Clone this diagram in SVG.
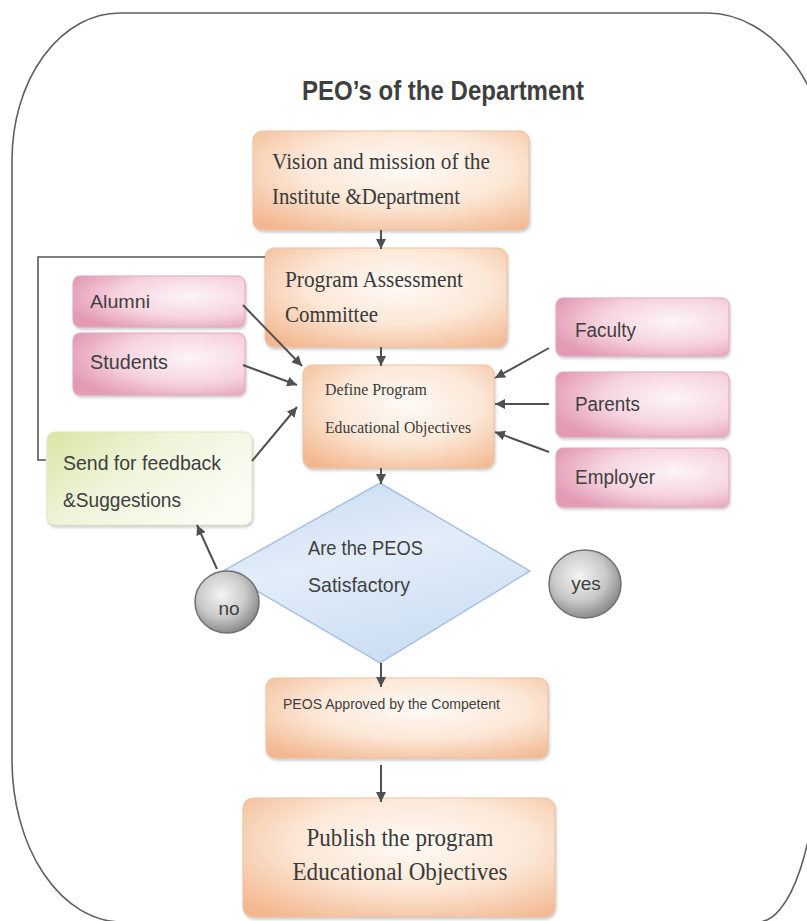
<svg xmlns="http://www.w3.org/2000/svg" width="807" height="921" viewBox="0 0 807 921">
<style>
  .serif{font-family:"Liberation Serif","Times New Roman",serif;fill:#3a3a3a}
  .sans{font-family:"Liberation Sans",Arial,sans-serif;fill:#3f3f3f}
  .orange{fill:url(#gOrange);stroke:#f0c2a0;stroke-width:1;filter:url(#shadow)}
  .pink{fill:url(#gPink);stroke:#e2a9be;stroke-width:1;filter:url(#shadow)}
  .green{fill:url(#gGreen);stroke:#dfe8c0;stroke-width:1;filter:url(#shadow)}
  .conn{stroke:#505050;stroke-width:2;fill:none}
  .arrow{marker-end:url(#ah)}
  .bubble{fill:url(#gGrey);stroke:#707070;stroke-width:1.5}
</style>
<defs>
  <radialGradient id="gOrange" cx="55%" cy="38%" r="75%">
    <stop offset="0" stop-color="#fffaf6"/>
    <stop offset="0.5" stop-color="#fce8d7"/>
    <stop offset="1" stop-color="#f3b78f"/>
  </radialGradient>
  <radialGradient id="gPink" cx="68%" cy="40%" r="75%">
    <stop offset="0" stop-color="#fdf5f8"/>
    <stop offset="0.55" stop-color="#f6d3df"/>
    <stop offset="1" stop-color="#e39ab4"/>
  </radialGradient>
  <linearGradient id="gGreen" x1="0" y1="0" x2="1" y2="0.6">
    <stop offset="0" stop-color="#d7e6a2"/>
    <stop offset="0.45" stop-color="#eef4d8"/>
    <stop offset="1" stop-color="#fbfcf4"/>
  </linearGradient>
  <linearGradient id="gBlue" x1="0" y1="0" x2="0.4" y2="1">
    <stop offset="0" stop-color="#c6d9f2"/>
    <stop offset="0.5" stop-color="#e3edf9"/>
    <stop offset="1" stop-color="#cddff4"/>
  </linearGradient>
  <radialGradient id="gGrey" cx="42%" cy="38%" r="62%">
    <stop offset="0" stop-color="#f4f4f4"/>
    <stop offset="0.6" stop-color="#c9c9c9"/>
    <stop offset="1" stop-color="#8c8c8c"/>
  </radialGradient>
  <filter id="shadow" x="-10%" y="-10%" width="120%" height="130%">
    <feDropShadow dx="1" dy="2" stdDeviation="1.5" flood-color="#888" flood-opacity="0.45"/>
  </filter>
  <marker id="ah" viewBox="0 0 10 10" refX="10" refY="5" markerWidth="10" markerHeight="10" markerUnits="userSpaceOnUse" orient="auto">
    <path d="M0,0 L10,5 L0,10 Z" fill="#505050"/>
  </marker>
</defs>
<rect x="0" y="0" width="807" height="921" fill="#ffffff"/>

<g id="frame">
  <path d="M120,13 L707,13 A125,177 0 0 1 832,190 L832,740 L818,740 A60,182 0 0 1 758,922 L122,922 A110,162 0 0 1 12,760 L12,160 A108,147 0 0 1 120,13 Z" fill="none" stroke="#5f5f5f" stroke-width="1.6"/>
</g>

<g id="title">
  <text x="302" y="100" class="sans" font-size="28" font-weight="bold" fill="#444" textLength="282" lengthAdjust="spacingAndGlyphs">PEO’s of the Department</text>
</g>

<g id="vision">
  <rect x="253" y="131" width="276" height="99" rx="9" class="orange"/>
  <text x="272" y="169" class="serif" font-size="23" textLength="218" lengthAdjust="spacingAndGlyphs">Vision and mission of the</text>
  <text x="272" y="204" class="serif" font-size="23" textLength="188" lengthAdjust="spacingAndGlyphs">Institute &amp;Department</text>
</g>

<g id="pac">
  <rect x="265" y="248" width="242" height="99" rx="9" class="orange"/>
  <text x="285" y="287" class="serif" font-size="23" textLength="178" lengthAdjust="spacingAndGlyphs">Program Assessment</text>
  <text x="285" y="322" class="serif" font-size="23" textLength="93" lengthAdjust="spacingAndGlyphs">Committee</text>
</g>

<g id="alumni">
  <rect x="73" y="276" width="172" height="51" rx="7" class="pink"/>
  <text x="90" y="308" class="sans" font-size="19" textLength="60" lengthAdjust="spacingAndGlyphs">Alumni</text>
</g>

<g id="students">
  <rect x="73" y="333" width="172" height="62" rx="7" class="pink"/>
  <text x="90" y="369" class="sans" font-size="20" textLength="78" lengthAdjust="spacingAndGlyphs">Students</text>
</g>

<g id="faculty">
  <rect x="556" y="298" width="173" height="58" rx="7" class="pink"/>
  <text x="575" y="337" class="sans" font-size="20" textLength="61" lengthAdjust="spacingAndGlyphs">Faculty</text>
</g>

<g id="parents">
  <rect x="556" y="372" width="173" height="65" rx="7" class="pink"/>
  <text x="575" y="411" class="sans" font-size="20" textLength="65" lengthAdjust="spacingAndGlyphs">Parents</text>
</g>

<g id="employer">
  <rect x="556" y="448" width="173" height="59" rx="7" class="pink"/>
  <text x="575" y="484" class="sans" font-size="20" textLength="80" lengthAdjust="spacingAndGlyphs">Employer</text>
</g>

<g id="define">
  <rect x="303" y="365" width="191" height="103" rx="9" class="orange"/>
  <text x="325" y="395" class="serif" font-size="17" textLength="102" lengthAdjust="spacingAndGlyphs">Define Program</text>
  <text x="325" y="433" class="serif" font-size="17" textLength="146" lengthAdjust="spacingAndGlyphs">Educational Objectives</text>
</g>

<g id="feedback">
  <rect x="47" y="432" width="205" height="93" rx="8" class="green"/>
  <text x="63" y="470" class="sans" font-size="21" textLength="158" lengthAdjust="spacingAndGlyphs">Send for feedback</text>
  <text x="63" y="507" class="sans" font-size="21" textLength="118" lengthAdjust="spacingAndGlyphs">&amp;Suggestions</text>
</g>

<g id="decision">
  <polygon points="380,483 530,571 380,663 223,571" fill="url(#gBlue)" stroke="#a8c1e3" stroke-width="1.5"/>
  <text x="308" y="555" class="sans" font-size="21" textLength="115" lengthAdjust="spacingAndGlyphs">Are the PEOS</text>
  <text x="308" y="592" class="sans" font-size="21" textLength="102" lengthAdjust="spacingAndGlyphs">Satisfactory</text>
</g>

<g id="no">
  <ellipse cx="227" cy="602" rx="32" ry="31" class="bubble"/>
  <text x="229" y="615" class="sans" font-size="19" text-anchor="middle">no</text>
</g>

<g id="yes">
  <ellipse cx="585" cy="584" rx="36" ry="34" class="bubble"/>
  <text x="586" y="590" class="sans" font-size="19" text-anchor="middle">yes</text>
</g>

<g id="approved">
  <rect x="266" y="678" width="282" height="80" rx="9" class="orange"/>
  <text x="283" y="709" class="sans" font-size="15" fill="#2f2f2f" textLength="217" lengthAdjust="spacingAndGlyphs">PEOS Approved by the Competent</text>
</g>

<g id="publish">
  <rect x="243" y="798" width="312" height="119" rx="10" class="orange"/>
  <text x="400" y="846" class="serif" font-size="26" text-anchor="middle" textLength="187" lengthAdjust="spacingAndGlyphs">Publish the program</text>
  <text x="400" y="880" class="serif" font-size="26" text-anchor="middle" textLength="215" lengthAdjust="spacingAndGlyphs">Educational Objectives</text>
</g>

<g id="connectors">
  <line x1="381" y1="230" x2="381" y2="249" class="conn arrow"/>
  <line x1="381" y1="347" x2="381" y2="366" class="conn arrow"/>
  <line x1="243" y1="305" x2="302" y2="366" class="conn arrow"/>
  <line x1="243" y1="365" x2="297" y2="385" class="conn arrow"/>
  <line x1="252" y1="461" x2="297" y2="407" class="conn arrow"/>
  <line x1="549" y1="348" x2="495" y2="378" class="conn arrow"/>
  <line x1="549" y1="404" x2="495" y2="404" class="conn arrow"/>
  <line x1="549" y1="452" x2="495" y2="432" class="conn arrow"/>
  <line x1="381" y1="468" x2="381" y2="484" class="conn arrow"/>
  <line x1="217" y1="569" x2="197" y2="525" class="conn arrow"/>
  <line x1="381" y1="663" x2="381" y2="687" class="conn arrow"/>
  <line x1="381" y1="765" x2="381" y2="802" class="conn arrow"/>
  <polyline points="265,257 38,257 38,460 46,460" fill="none" stroke="#555" stroke-width="1.6"/>
</g>
</svg>
